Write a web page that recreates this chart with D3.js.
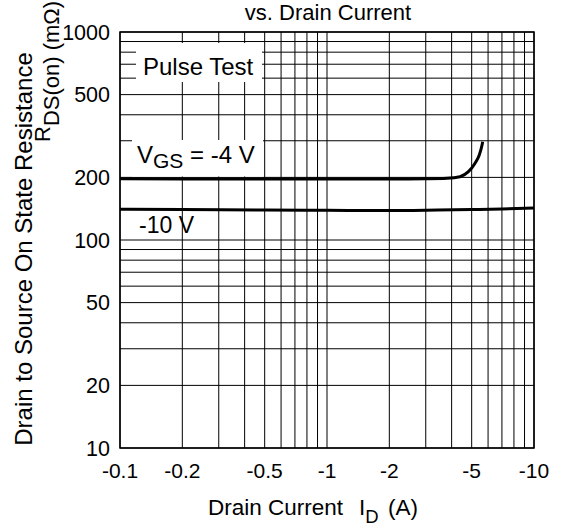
<!DOCTYPE html>
<html>
<head>
<meta charset="utf-8">
<script src="https://cdn.jsdelivr.net/npm/d3@7"></script>
<style>
    body { margin: 0; background: #fff; }
    text { font-family: "Liberation Sans", Arial, sans-serif; fill: #000; }
</style>
</head>
<body>
<svg id="chart" width="563" height="530"></svg>
<script>
/*
/   Data (|I_D| in A, R in mOhm)
*/

const xTicks = [0.1, 0.2, 0.5, 1, 2, 5, 10];
const xTickLabels = ["-0.1", "-0.2", "-0.5", "-1", "-2", "-5", "-10"];
const yTicks = [10, 20, 50, 100, 200, 500, 1000];

const currentVgs4 = [0.1, 0.2, 0.5, 1, 2, 3, 3.8, 4.39, 4.82, 5.19, 5.44, 5.61, 5.65];
const rdsVgs4 = [197, 196.5, 196.5, 196.5, 196.5, 197, 198, 201.5, 213, 234, 256, 286, 297];

const currentVgs10 = [0.1, 0.2, 0.5, 1, 2, 3, 5, 7, 10];
const rdsVgs10 = [140.5, 140, 139.5, 139, 138.5, 139, 140, 141, 142.5];

/*
/   Setup
*/

const svg = d3.select("#chart");
const plotLeft = 120, plotRight = 534, plotTop = 32, plotBottom = 448;

const x = d3.scaleLog().domain([0.1, 10]).range([plotLeft, plotRight]);
const y = d3.scaleLog().domain([10, 1000]).range([plotBottom, plotTop]);

// every 1..9 step of each decade
const xGrid = [];
[0.1, 1].forEach(d => { for (let k = 1; k <= 9; k++) xGrid.push(d * k); });
xGrid.push(10);
const yGrid = [];
[10, 100].forEach(d => { for (let k = 1; k <= 9; k++) yGrid.push(d * k); });
yGrid.push(1000);

svg.append("rect").attr("width", 563).attr("height", 530).attr("fill", "#fff");

/*
/   Grid
*/

const grid = svg.append("g").attr("stroke", "#000").attr("stroke-width", 1);

grid.selectAll("line.v")
    .data(xGrid)
    .join("line")
    .attr("class", "v")
    .attr("x1", d => x(d)).attr("x2", d => x(d))
    .attr("y1", plotTop).attr("y2", plotBottom);

grid.selectAll("line.h")
    .data(yGrid)
    .join("line")
    .attr("class", "h")
    .attr("x1", plotLeft).attr("x2", plotRight)
    .attr("y1", d => y(d)).attr("y2", d => y(d));

// white boxes behind the labels
svg.append("rect").attr("x", 136).attr("y", 43).attr("width", 126).attr("height", 39).attr("fill", "#fff");
svg.append("rect").attr("x", 132).attr("y", 140).attr("width", 131).attr("height", 36.5).attr("fill", "#fff");

/*
/   Curves
*/

const line = d3.line()
    .x(d => x(d[0]))
    .y(d => y(d[1]))
    .curve(d3.curveMonotoneX);

svg.append("path")
    .datum(d3.zip(currentVgs4, rdsVgs4))
    .attr("d", line)
    .attr("fill", "none")
    .attr("stroke", "#000")
    .attr("stroke-width", 3);

svg.append("path")
    .datum(d3.zip(currentVgs10, rdsVgs10))
    .attr("d", line)
    .attr("fill", "none")
    .attr("stroke", "#000")
    .attr("stroke-width", 3);

// frame
svg.append("rect")
    .attr("x", plotLeft).attr("y", plotTop)
    .attr("width", plotRight - plotLeft).attr("height", plotBottom - plotTop)
    .attr("fill", "none").attr("stroke", "#000").attr("stroke-width", 1.5);

/*
/   Axes labels
*/

svg.selectAll("text.xt")
    .data(xTicks)
    .join("text")
    .attr("class", "xt")
    .attr("x", d => x(d))
    .attr("y", 478)
    .attr("text-anchor", "middle")
    .attr("font-size", 21)
    .text((d, i) => xTickLabels[i]);

svg.selectAll("text.yt")
    .data(yTicks)
    .join("text")
    .attr("class", "yt")
    .attr("x", 110)
    .attr("y", d => y(d))
    .attr("dy", "0.36em")
    .attr("text-anchor", "end")
    .attr("font-size", 21.5)
    .text(d => d);

// x axis title, the gap before "I" is wider than a normal space
const xt = svg.append("text").attr("y", 515).attr("font-size", 22.5);
xt.append("tspan").attr("x", 208).text("Drain Current");
xt.append("tspan").attr("x", 359).text("I");
xt.append("tspan").attr("font-size", 18.5).attr("dy", 8).text("D");
xt.append("tspan").attr("x", 388).attr("dy", -8).text("(A)");

svg.append("text")
    .attr("transform", "translate(32,249) rotate(-90)")
    .attr("text-anchor", "middle")
    .attr("font-size", 24)
    .text("Drain to Source On State Resistance");

const yt2 = svg.append("text")
    .attr("transform", "translate(50,142) rotate(-90)")
    .attr("font-size", 22);
yt2.append("tspan").text("R");
yt2.append("tspan").attr("dy", 9).text("DS(on) (mΩ)");

svg.append("text")
    .attr("x", 328).attr("y", 19.5)
    .attr("text-anchor", "middle")
    .attr("font-size", 22)
    .text("vs. Drain Current");

/*
/   In-plot labels
*/

svg.append("text").attr("x", 143).attr("y", 75).attr("font-size", 24).text("Pulse Test");

const vgs = svg.append("text").attr("x", 137).attr("y", 163).attr("font-size", 24);
vgs.append("tspan").text("V");
vgs.append("tspan").attr("font-size", 21).attr("dy", 5).text("GS");
vgs.append("tspan").attr("dy", -5).text(" = -4 V");

svg.append("text").attr("x", 139).attr("y", 233).attr("font-size", 23).text("-10 V");
</script>
</body>
</html>
